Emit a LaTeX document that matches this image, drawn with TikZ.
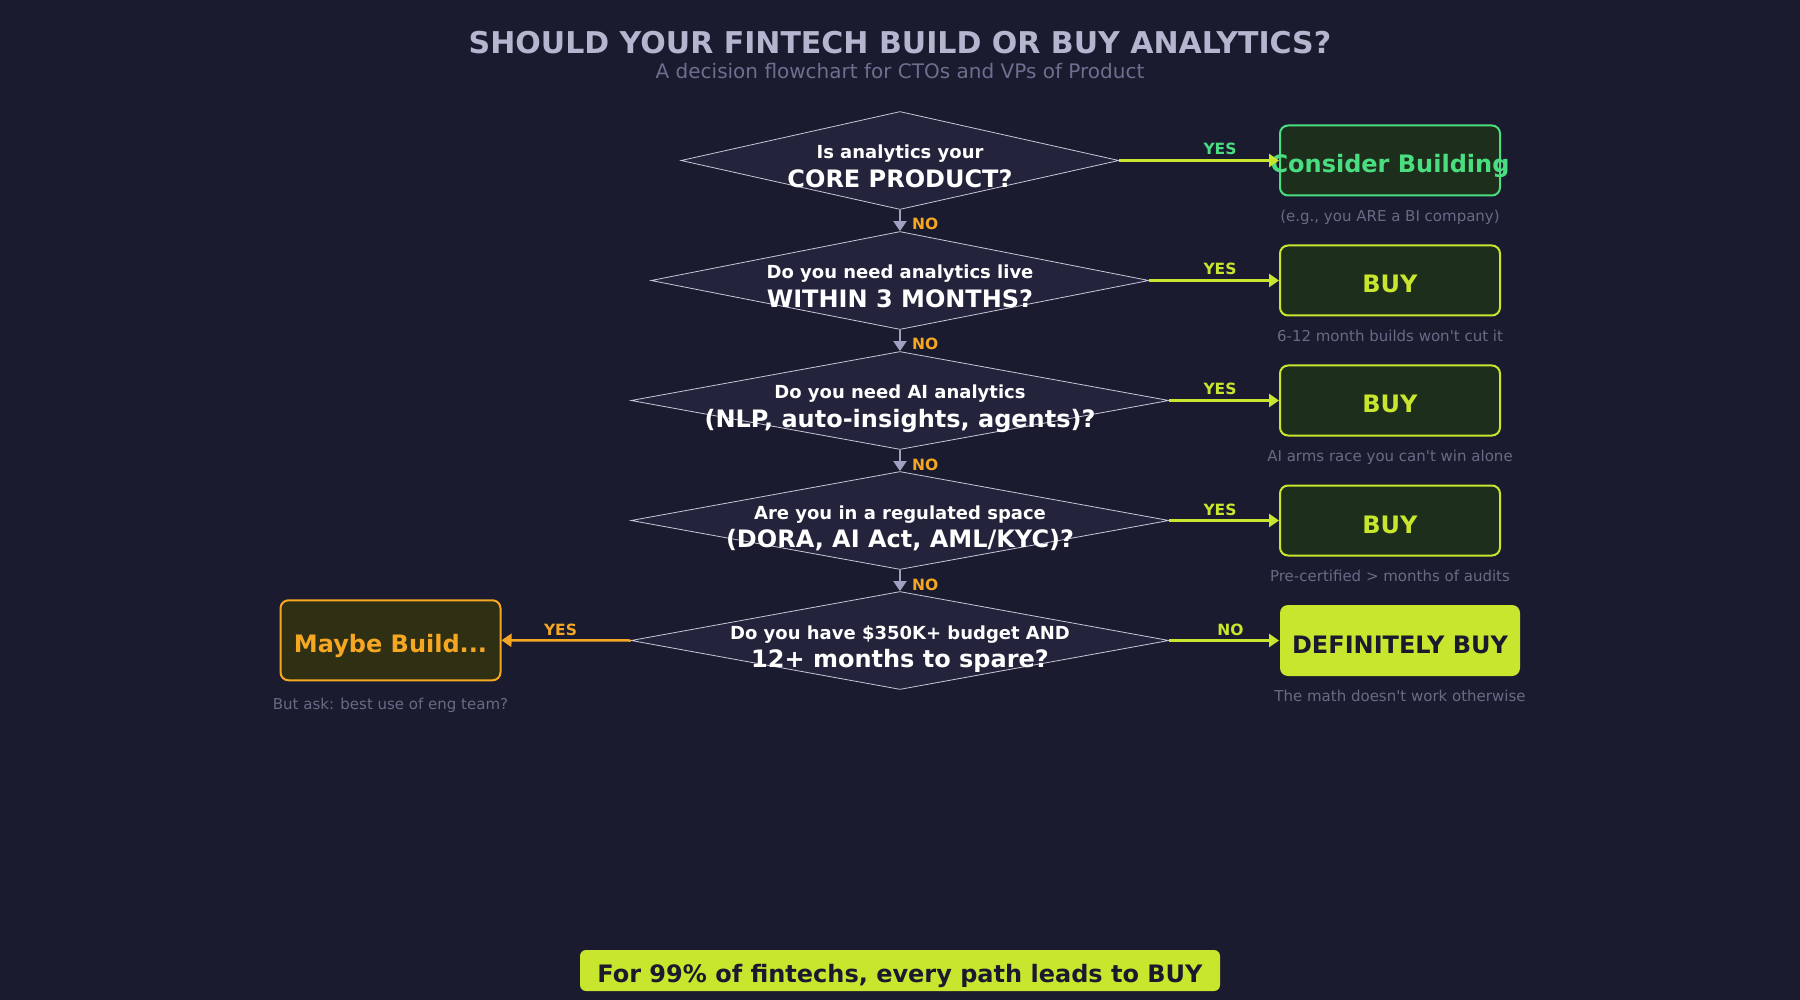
\documentclass[tikz,border=0pt]{standalone}
\usepackage{fontspec}
\setmainfont{DejaVu Sans}[Ligatures=TeXOff]
\usetikzlibrary{arrows.meta,shapes.geometric}
\definecolor{bg}{HTML}{1A1B2E}
\definecolor{diafill}{HTML}{23233B}
\definecolor{diaedge}{HTML}{C8C8D8}
\definecolor{titlecol}{HTML}{B5B5D0}
\definecolor{subcol}{HTML}{6E6E90}
\definecolor{capgray}{HTML}{6A6A86}
\definecolor{lime}{HTML}{C8E62E}
\definecolor{mint}{HTML}{4ADE80}
\definecolor{orng}{HTML}{F5A623}
\definecolor{greenfill}{HTML}{1E2E1C}
\definecolor{olivefill}{HTML}{2F2F14}
\definecolor{arrgray}{HTML}{A0A0C0}
\definecolor{darktext}{HTML}{1A1A2E}
\begin{document}
\begin{tikzpicture}[x=1pt,y=-1pt,
  dia/.style={shape=diamond, draw=diaedge, fill=diafill, line width=0.8pt, inner sep=0pt, minimum height=98pt},
  qa/.style={font=\bfseries\fontsize{18}{20}\selectfont, text=white, anchor=base, inner sep=0pt},
  qb/.style={font=\bfseries\fontsize{24}{26}\selectfont, text=white, anchor=base, inner sep=0pt},
  box/.style={rounded corners=8pt, minimum width=220pt, minimum height=70pt, line width=2pt, inner sep=0pt},
  boxtxt/.style={font=\bfseries\fontsize{24}{28}\selectfont, anchor=base, inner sep=0pt},
  captxt/.style={font=\fontsize{15}{18}\selectfont, text=capgray, anchor=base, inner sep=0pt},
  lab/.style={font=\bfseries\fontsize{15.5}{18}\selectfont, anchor=base, inner sep=0pt},
  yesarr/.style={draw=lime, line width=2.5pt, -{Triangle[length=10pt,width=13pt]}},
  leftarr/.style={draw=orng, line width=2.5pt, -{Triangle[length=10pt,width=13pt]}},
  downarr/.style={draw=arrgray, line width=2pt, -{Triangle[length=10pt,width=13pt]}}
]
\useasboundingbox[fill=bg] (0,0) rectangle (1800,1000);

% title
\node[anchor=base, inner sep=0pt, text=titlecol, font=\bfseries\fontsize{30}{34}\selectfont] (title) at (900,53.3) {SHOULD YOUR FINTECH BUILD OR BUY ANALYTICS?};
\node[anchor=base, inner sep=0pt, text=subcol, font=\fontsize{20}{24}\selectfont] (subtitle) at (900,78.3) {A decision flowchart for CTOs and VPs of Product};

% diamonds
\node[dia, minimum width=438pt] (d1) at (900,160.5) {};
\node[dia, minimum width=498pt] (d2) at (900,280.5) {};
\node[dia, minimum width=538pt] (d3) at (900,400.5) {};
\node[dia, minimum width=538pt] (d4) at (900,520.5) {};
\node[dia, minimum width=538pt] (d5) at (900,640.5) {};

\node[qa] (t1a) at (900,159) {Is analytics your};
\node[qb] (t1b) at (900,187.5) {CORE PRODUCT?};
\node[qa] (t2a) at (900,279) {Do you need analytics live};
\node[qb] (t2b) at (900,307.5) {WITHIN 3 MONTHS?};
\node[qa] (t3a) at (900,399) {Do you need AI analytics};
\node[qb] (t3b) at (900,427.5) {(NLP, auto-insights, agents)?};
\node[qa] (t4a) at (900,519) {Are you in a regulated space};
\node[qb] (t4b) at (900,547.5) {(DORA, AI Act, AML/KYC)?};
\node[qa] (t5a) at (900,639) {Do you have \$350K+ budget AND};
\node[qb] (t5b) at (900,667.5) {12+ months to spare?};

% boxes
\node[box, draw=mint, fill=greenfill] (b1) at (1390,160.5) {};
\node[box, draw=lime, fill=greenfill] (b2) at (1390,280.5) {};
\node[box, draw=lime, fill=greenfill] (b3) at (1390,400.5) {};
\node[box, draw=lime, fill=greenfill] (b4) at (1390,520.5) {};
\node[box, fill=lime, minimum width=240pt, minimum height=71pt] (b5) at (1400,640.5) {};
\node[box, draw=orng, fill=olivefill, minimum height=80pt] (bm) at (390.5,640.3) {};

\node[boxtxt, text=mint] (b1t) at (1390,173) {Consider Building};
\node[boxtxt, text=lime] (b2t) at (1390,293) {BUY};
\node[boxtxt, text=lime] (b3t) at (1390,413) {BUY};
\node[boxtxt, text=lime] (b4t) at (1390,533) {BUY};
\node[boxtxt, text=darktext] (b5t) at (1400,653) {DEFINITELY BUY};
\node[boxtxt, text=orng] (bmt) at (390.5,652.8) {Maybe Build...};

\node[captxt] (c1) at (1390,221.5) {(e.g., you ARE a BI company)};
\node[captxt] (c2) at (1390,341.5) {6-12 month builds won't cut it};
\node[captxt] (c3) at (1390,461.5) {AI arms race you can't win alone};
\node[captxt] (c4) at (1390,581.5) {Pre-certified > months of audits};
\node[captxt] (c5) at (1400,701.5) {The math doesn't work otherwise};
\node[captxt] (cm) at (390.5,709) {But ask: best use of eng team?};

% yes arrows
\draw[yesarr] (d1.east) -- (b1.west);
\draw[yesarr] (d2.east) -- (b2.west);
\draw[yesarr] (d3.east) -- (b3.west);
\draw[yesarr] (d4.east) -- (b4.west);
\draw[yesarr] (d5.east) -- (b5.west);
\draw[leftarr] (d5.west) -- (bm.east);

\node[lab, text=mint] (y1) at (1220,155) {YES};
\node[lab, text=lime] (y2) at (1220,275) {YES};
\node[lab, text=lime] (y3) at (1220,395) {YES};
\node[lab, text=lime] (y4) at (1220,515) {YES};
\node[lab, text=lime] (n5) at (1230.5,635) {NO};
\node[lab, text=orng] (y5) at (560.5,635) {YES};

% down arrows
\draw[downarr] (d1.south) -- (d2.north);
\draw[downarr] (d2.south) -- (d3.north);
\draw[downarr] (d3.south) -- (d4.north);
\draw[downarr] (d4.south) -- (d5.north);
\node[lab, text=orng, anchor=base west] (n1) at (912,230) {NO};
\node[lab, text=orng, anchor=base west] (n2) at (912,350) {NO};
\node[lab, text=orng, anchor=base west] (n3) at (912,470) {NO};
\node[lab, text=orng, anchor=base west] (n4) at (912,590) {NO};

% banner
\node[fill=lime, rounded corners=6pt, minimum width=640pt, minimum height=41pt, inner sep=0pt] (banner) at (900,970.5) {};
\node[boxtxt, text=darktext] (bannert) at (900,982.5) {For 99\% of fintechs, every path leads to BUY};
\end{tikzpicture}
\end{document}
